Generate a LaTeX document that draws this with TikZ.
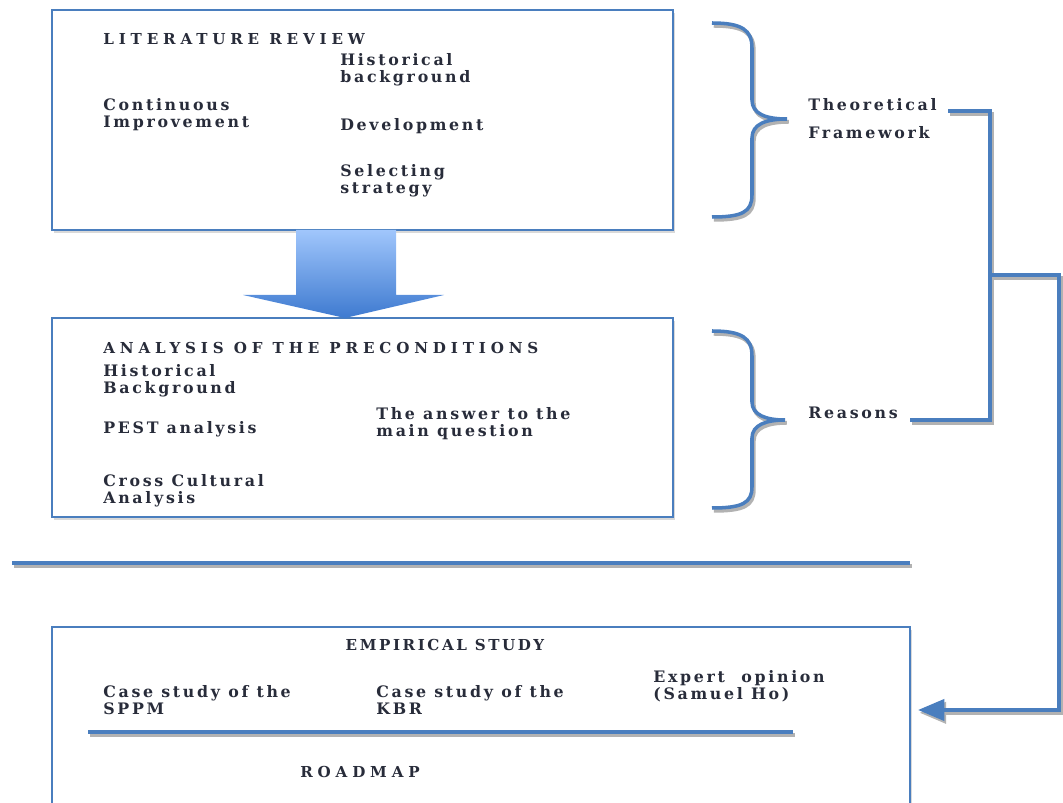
\documentclass[tikz,border=0pt]{standalone}
\usepackage{fontspec}
\setmainfont{DejaVu Serif}
\newfontfamily\headfont[LetterSpace=17]{DejaVu Serif}
\newfontfamily\titlefont[LetterSpace=32]{DejaVu Serif}
\usetikzlibrary{shadows,arrows.meta,fit}
\definecolor{lineblue}{RGB}{74,126,190}
\definecolor{txt}{RGB}{40,44,58}
\definecolor{arrtop}{RGB}{160,198,252}
\definecolor{arrbot}{RGB}{62,122,208}
\begin{document}
\begin{tikzpicture}[x=0.02cm,y=-0.02cm,
  box/.style={draw=lineblue, line width=1.2pt, fill=white, inner sep=0pt,
    drop shadow={shadow xshift=1.2pt, shadow yshift=-1.8pt, opacity=0.3}},
  wire/.style={draw=lineblue, line width=2.2pt,
    preaction={draw=black!30, line width=2.2pt,
      transform canvas={shift={(1pt,-1.6pt)}}}},
  brc/.style={wire, line width=2pt},
  lbl/.style={anchor=west, inner sep=0pt, text=txt, align=left,
    font=\headfont\bfseries\fontsize{9}{9.6}\selectfont},
  headlbl/.style={lbl, font=\titlefont\bfseries\fontsize{8.6}{9.6}\selectfont},
  sublbl/.style={lbl, font=\headfont\bfseries\fontsize{8.6}{9.6}\selectfont}]
\useasboundingbox (0,0) rectangle (1063,803);
\clip (0,0) rectangle (1063,803);

% literature review box
\coordinate (l1) at (52,10); \coordinate (l2) at (673,230);
\node[box, fit=(l1)(l2)] (lit) {};
\node[headlbl] (litt) at (103,39) {LITERATURE REVIEW};
\node[lbl] (lhb) at (340,70) {Historical\\background};
\node[lbl] (lci) at (103,115) {Continuous\\Improvement};
\node[lbl] (ldv) at (340,126) {Development};
\node[lbl] (lss) at (340,181) {Selecting\\strategy};

% analysis box
\coordinate (a1) at (52,318); \coordinate (a2) at (673,517);
\node[box, fit=(a1)(a2)] (pre) {};
\node[headlbl] (pret) at (103,348) {ANALYSIS OF THE PRECONDITIONS};
\node[lbl] (phb) at (103,381) {Historical\\Background};
\node[lbl] (pest) at (103,429) {PEST analysis};
\node[lbl] (pans) at (376,424) {The answer to the\\main question};
\node[lbl] (pcc) at (103,491) {Cross Cultural\\Analysis};

% block arrow between the two boxes
\shade[top color=arrtop, bottom color=arrbot]
  (296,230) -- (396,230) -- (396,295) -- (444,295) -- (345,318)
  -- (243,295) -- (296,295) -- cycle;

% braces
\draw[brc] (712,23) .. controls (742,23) and (752,30) .. (752,48)
  -- (752,100) .. controls (752,114) and (766,119) .. (787,119)
  .. controls (766,119) and (752,124) .. (752,138)
  -- (752,195) .. controls (752,212) and (742,217) .. (712,217);
\draw[brc] (712,331) .. controls (742,331) and (752,338) .. (752,356)
  -- (752,402) .. controls (752,415) and (766,420) .. (785,420)
  .. controls (766,420) and (752,425) .. (752,438)
  -- (752,487) .. controls (752,503) and (742,508) .. (712,508);

\node[lbl, font=\headfont\bfseries\fontsize{9}{16}\selectfont] (tf) at (808,119) {Theoretical\\Framework};
\node[lbl] (rs) at (808,413) {Reasons};

% separator
\coordinate (s1) at (12,563); \coordinate (s2) at (910,563);
\draw[wire, line width=1.8pt] (s1) -- (s2);

% empirical study box
\coordinate (e1) at (52,627); \coordinate (e2) at (910,830);
\node[box, fit=(e1)(e2)] (emp) {};
\node[sublbl, anchor=center] (empt) at (445,645) {EMPIRICAL STUDY};
\node[lbl] (es1) at (103,700) {Case study of the\\SPPM};
\node[lbl] (es2) at (376,700) {Case study of the\\KBR};
\node[lbl] (eex) at (653,686) {Expert\ \ opinion\\(Samuel Ho)};
\coordinate (r1) at (88,732); \coordinate (r2) at (793,732);
\draw[wire, line width=1.8pt] (r1) -- (r2);
\node[headlbl] (road) at (300,772) {ROADMAP};

% connectors
\coordinate (tfe) at (948,111);
\coordinate (rse) at (910,420);
\coordinate (jt) at (990,111);
\coordinate (jb) at (990,420);
\coordinate (jm) at (990,275);
\coordinate (ja) at (1059,275);
\coordinate (jd) at (1059,710);
\coordinate (emr) at (918,710);
\draw[wire, line join=miter] (tfe) -- (jt) -- (jb) -- (rse);
\draw[wire, line join=miter, -{Triangle[length=15pt,width=12pt]}] (jm) -- (ja) -- (jd) -- (emr);
\end{tikzpicture}
\end{document}
